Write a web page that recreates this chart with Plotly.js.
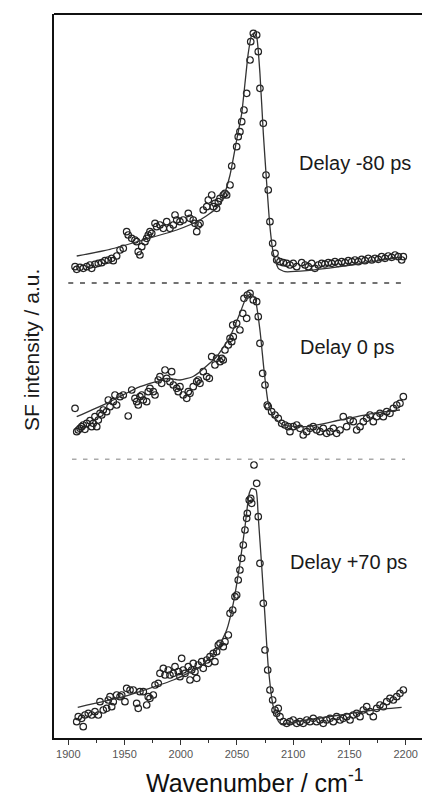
<!DOCTYPE html>
<html>
<head>
<meta charset="utf-8">
<script src="https://cdn.plot.ly/plotly-3.0.1.min.js"></script>
<style>
html,body{margin:0;padding:0;background:#fff;overflow:hidden;width:422px;height:796px;}
#wrap{width:422px;height:796px;overflow:hidden;position:relative;}
#chart{width:432px;height:796px;position:absolute;left:0;top:0;}
</style>
</head>
<body>
<div id="wrap"><div id="chart"></div></div>
<script>
// ---- Data (wavenumber in cm-1, intensity in stacked arbitrary units) ----
const delayLabels = ["Delay -80 ps", "Delay 0 ps", "Delay +70 ps"];

// Delay -80 ps : measured points
const s1x = [1906.0,1907.5,1910.4,1913.3,1916.4,1919.3,1920.8,1923.7,1926.7,1929.7,1932.6,1935.6,1938.6,1940.0,1943.0,1946.0,1948.9,1951.9,1953.3,1956.4,1959.3,1960.8,1962.2,1963.7,1965.3,1968.2,1969.7,1971.1,1972.6,1974.2,1977.1,1978.6,1981.5,1984.5,1987.5,1990.4,1993.4,1994.9,1996.4,1999.3,2002.2,2006.7,2008.2,2011.1,2012.6,2014.2,2015.6,2017.1,2020.0,2023.1,2024.5,2027.5,2028.9,2030.4,2031.9,2033.4,2034.9,2037.8,2039.3,2040.8,2043.8,2045.3,2049.7,2051.1,2052.6,2054.2,2056.2,2058.6,2061.6,2062.2,2064.5,2067.5,2068.9,2070.4,2073.4,2075.8,2077.8,2079.3,2081.7,2083.8,2085.3,2088.2,2091.2,2094.2,2097.1,2100.0,2103.1,2107.5,2110.5,2113.4,2116.4,2119.3,2122.3,2125.3,2128.2,2131.2,2134.2,2137.1,2140.1,2143.1,2146.0,2149.0,2152.0,2154.9,2157.8,2160.9,2163.8,2166.7,2169.8,2172.7,2175.6,2178.6,2181.6,2184.5,2187.5,2190.5,2193.4,2196.4,2197.9];
const s1y = [470.3,467.7,469.7,468.7,470.3,472,468.7,472.7,473.7,474.3,476.3,477,478.7,476.3,481,487,488.7,505.3,502,498.7,497,495.3,485.3,482,490.3,495.3,498.7,502,505.3,503.7,513.7,510.3,512,508.7,515.3,508.7,512,522,517,515.3,517,523.7,518.7,517,513.7,505.3,512,513.7,527,530.3,537,542,530.3,533.7,528.7,535.3,538.7,542,543.7,542,552,571,590.3,600.3,605.3,615.3,627,643.7,677,695.3,703.7,702,685.3,648.7,613.7,562,547,515.3,493.7,483.7,477,475.3,474.3,473.7,472,473.7,470.3,474.3,472,470.3,473.7,468.7,472,473.7,473,474.3,473.7,475.3,473.7,475.3,474.3,476.3,475.3,477,475.3,477.7,476.3,478.7,477,478.7,477.7,480.3,478.7,481,479.7,482,480.3,477,480.3];
// Delay -80 ps : fit
const f1x = [1907.5,1937.1,1966.7,1996.4,2017.1,2031.9,2037.8,2043.8,2049.7,2054.2,2057.1,2060.0,2063.1,2065.4,2067.5,2070.4,2073.4,2076.4,2079.3,2082.3,2086.7,2092.7,2112.0,2141.6,2171.2,2194.9];
const f1y = [481,487.7,497,507,517,528.7,540,562,597,623.7,653.7,683.7,702,703.7,700.3,663.7,603.7,553.7,510.3,483.7,468.7,465.3,466.3,470.3,475.3,479.7];

// Delay 0 ps : measured points
const s2x = [1906.0,1907.5,1908.9,1910.4,1911.9,1913.3,1914.8,1916.4,1919.3,1920.8,1922.2,1923.7,1925.3,1926.7,1928.2,1929.7,1931.1,1934.1,1935.6,1937.1,1940.0,1941.5,1943.0,1946.0,1948.9,1953.3,1956.4,1959.3,1960.8,1962.2,1963.7,1965.3,1966.7,1969.7,1971.1,1972.6,1975.6,1977.1,1980.0,1981.5,1983.0,1986.0,1987.5,1990.4,1991.9,1993.4,1996.4,1997.8,1999.3,2002.2,2005.3,2006.7,2008.2,2011.1,2014.2,2015.6,2017.1,2020.0,2023.1,2025.4,2027.5,2030.4,2031.9,2034.9,2036.4,2037.8,2039.3,2042.3,2043.8,2045.3,2046.2,2046.7,2049.7,2052.6,2055.1,2056.2,2058.6,2059.2,2061.6,2064.5,2067.5,2068.9,2070.4,2072.8,2074.9,2076.9,2077.8,2080.8,2083.8,2086.7,2089.7,2092.7,2095.6,2097.1,2100.0,2103.1,2106.0,2108.9,2112.0,2114.9,2117.8,2120.8,2123.8,2126.7,2129.7,2132.7,2135.6,2138.6,2141.6,2144.5,2147.5,2150.5,2153.4,2156.4,2159.4,2162.3,2165.3,2168.2,2171.2,2174.2,2177.1,2180.1,2183.1,2186.0,2189.0,2192.0,2194.9,2197.9];
const s2y = [328.7,305.3,307,308.7,310.3,312,307.7,313.7,316.3,310.3,313.7,320.3,310.3,317,323.7,322,327,325.3,337,330.3,335.3,342,332,340.3,342,321,347,338.7,335.3,332,340.3,342,337,335.3,345.3,348.7,345.3,342,357,360.3,353.7,367,358.7,355.3,365.3,352,348.7,345.3,350.3,342,338.7,345.3,343.7,350.3,355.3,357,353.7,365.3,360.3,358.7,380.3,372,378.7,375.3,378.7,377,387,392,398.7,395.3,412,400.3,413.7,407,423.7,438.7,418.7,442,443.7,437,435.3,420.3,393.7,363.7,352,332,330.3,325.3,322,318.7,313.7,312,310.3,305.3,310.3,312,308.7,302,305.3,308.7,310.3,307,305.3,308.7,303.7,305.3,308.7,303.7,307,320.3,310.3,317,315.3,307,310.3,315.3,318.7,322,315.3,320.3,323.7,320.3,325.3,323.7,328.7,332,333.7,340.3];
// Delay 0 ps : fit
const f2x = [1907.5,1934.1,1963.7,1980.0,1987.5,1999.3,2010.0,2017.1,2031.9,2043.8,2052.6,2058.6,2062.2,2066.0,2070.4,2074.0,2077.8,2082.3,2091.2,2112.0,2141.6,2171.2,2194.9];
const f2y = [320.3,333.7,350.3,356,358.7,357,360,365.3,380.3,400.3,423.7,440.3,443,438.7,407,367,333.7,320.3,312,310.3,317,323.7,327];

// Delay +70 ps : measured points
const s3x = [1907.5,1908.9,1911.9,1913.3,1914.8,1917.8,1920.8,1923.7,1926.7,1928.2,1931.1,1934.1,1935.6,1937.1,1938.6,1940.0,1943.0,1946.0,1947.5,1950.4,1951.9,1954.9,1957.8,1960.8,1962.2,1963.7,1966.7,1969.7,1971.1,1972.6,1975.6,1977.1,1980.0,1981.5,1984.5,1986.0,1988.9,1990.4,1993.4,1994.9,1997.8,1999.3,2000.8,2002.2,2003.8,2006.7,2008.2,2009.7,2011.1,2012.6,2014.2,2015.6,2018.6,2020.0,2023.1,2024.5,2026.0,2028.9,2030.4,2031.9,2033.4,2034.9,2037.8,2039.3,2042.3,2043.8,2046.2,2048.2,2049.7,2051.1,2052.6,2054.2,2055.6,2057.1,2058.6,2059.2,2060.9,2062.2,2063.1,2065.1,2067.5,2068.9,2070.4,2073.4,2074.9,2077.3,2079.3,2081.7,2083.8,2085.3,2086.7,2088.2,2091.2,2094.2,2097.1,2100.0,2103.1,2106.0,2108.9,2112.0,2114.9,2117.8,2120.8,2123.8,2126.7,2129.7,2132.7,2135.6,2138.6,2141.6,2144.5,2147.5,2150.5,2153.4,2156.4,2159.4,2162.3,2165.3,2168.2,2171.2,2174.2,2177.1,2180.1,2183.1,2186.0,2189.0,2192.0,2194.9,2197.9];
const s3y = [15.3,20.3,18.7,10.3,22,23.7,22,25.3,22,35.3,27,28.7,37,40.3,30.3,35.3,42,40.3,42,35.3,48.7,47,47,33.7,28.7,45.3,45.3,32,40.3,38.7,42,52,53.7,63.7,68.7,62,67,62,63.7,70.3,65.3,60.3,78.7,67,63.7,70.3,57,67,73.7,65.3,58.7,72,75.3,68.7,77,73.7,80.3,83.7,75.3,85.3,92,93.7,90.3,95.3,102,123.7,127,140.3,142,157,167,178.7,192,207,218.7,223.7,237,238.7,233.7,272,253.7,220.3,173.7,133.7,87,67,47,37,27,23.7,28.7,20.3,15.3,13.7,15.3,17,13.7,15.3,13.7,17,15.3,18.7,15.3,17,13.7,17,18.7,15.3,20.3,17,18.7,20.3,17,22,23.7,20.3,27,30.3,25.3,20.3,28.7,32,30.3,35.3,38.7,37,40.3,43.7,47];
// Delay +70 ps : fit
const f3x = [1908.4,1948.9,1993.4,2017.1,2031.9,2040.8,2046.7,2052.6,2057.1,2060.9,2063.1,2066.9,2068.9,2072.0,2074.9,2077.8,2082.3,2088.2,2112.0,2141.6,2171.2,2196.4];
const f3y = [29.7,40.3,57,70.3,87,107,133.7,173.7,210.3,243.7,248.7,247,220.3,170.3,120.3,70.3,30.3,13.7,17,22,27,29.7];

// Separator levels between the stacked spectra, label anchors
const sepY = [454, 277.7];
const labelY = [574, 390, 175];

// ---- Build traces ----
const pts = [[s1x, s1y], [s2x, s2y], [s3x, s3y]];
const fits = [[f1x, f1y], [f2x, f2y], [f3x, f3y]];
const traces = [];
pts.forEach(p => traces.push({
  x: p[0], y: p[1], type: 'scatter', mode: 'markers', hoverinfo: 'skip',
  marker: {symbol: 'circle-open', size: 6.5, color: '#222', line: {width: 1.2, color: '#222'}}
}));
fits.forEach(f => traces.push({
  x: f[0], y: f[1], type: 'scatter', mode: 'lines', hoverinfo: 'skip',
  line: {color: '#333', width: 1.3, shape: 'spline', smoothing: 0.5}
}));

const labelX = [2103.3, 2104.2, 2095.3];
const annotations = delayLabels.map((t, i) => ({
  text: t, x: labelX[i], y: labelY[i], xref: 'x', yref: 'y',
  xanchor: 'left', yanchor: 'middle', showarrow: false,
  font: {family: 'Liberation Sans, Arial, sans-serif', size: 20, color: '#1a1a1a'}
}));
annotations.push({
  text: 'SF intensity / a.u.', textangle: -90, x: -0.0585, y: 0.536,
  xref: 'paper', yref: 'paper', xanchor: 'center', yanchor: 'middle', showarrow: false,
  font: {family: 'Liberation Sans, Arial, sans-serif', size: 21, color: '#1a1a1a'}
});
annotations.push({
  text: 'Wavenumber / cm<sup>-1</sup>', x: 0.532, y: -0.06,
  xref: 'paper', yref: 'paper', xanchor: 'center', yanchor: 'middle', showarrow: false,
  font: {family: 'Liberation Sans, Arial, sans-serif', size: 25, color: '#111'}
});

const shapes = [
  {type: 'line', xref: 'x', yref: 'y', x0: 1900, x1: 2196.7, y0: sepY[0], y1: sepY[0],
   line: {color: '#444', width: 1.4, dash: '5px,6.7px'}},
  {type: 'line', xref: 'x', yref: 'y', x0: 1903.3, x1: 2199.4, y0: sepY[1], y1: sepY[1],
   line: {color: '#aaa', width: 1.4, dash: '4.5px,6.5px'}},
  // frame: top edge
  {type: 'line', xref: 'paper', yref: 'paper', x0: 0, x1: 1, y0: 1, y1: 1,
   line: {color: '#111', width: 2}}
];

const layout = {
  width: 432, height: 796,
  margin: {l: 54, r: 2, t: 14, b: 58},
  paper_bgcolor: '#fff', plot_bgcolor: '#fff',
  showlegend: false,
  font: {family: 'Liberation Sans, Arial, sans-serif'},
  xaxis: {
    range: [1887.3, 2221.6], showgrid: false, zeroline: false,
    showline: true, linecolor: '#111', linewidth: 2, mirror: false,
    ticks: 'outside', ticklen: 5, tickwidth: 1, tickcolor: '#333',
    tickvals: [1900, 1950, 2000, 2050, 2100, 2150, 2200],
    ticktext: ['1900', '1950', '2000', '2050', '2100', '2150', '2200'],
    tickfont: {size: 11, color: '#555'},
    minor: {tickvals: [1925, 1975, 2025, 2075, 2125, 2175], ticks: 'outside', ticklen: 3, tickcolor: '#333', showgrid: false}
  },
  yaxis: {
    range: [-1, 723], showgrid: false, zeroline: false,
    showline: true, linecolor: '#111', linewidth: 2, mirror: false,
    showticklabels: false, ticks: ''
  },
  shapes: shapes,
  annotations: annotations
};

Plotly.newPlot('chart', traces, layout, {displayModeBar: false, staticPlot: true});
</script>
</body>
</html>
